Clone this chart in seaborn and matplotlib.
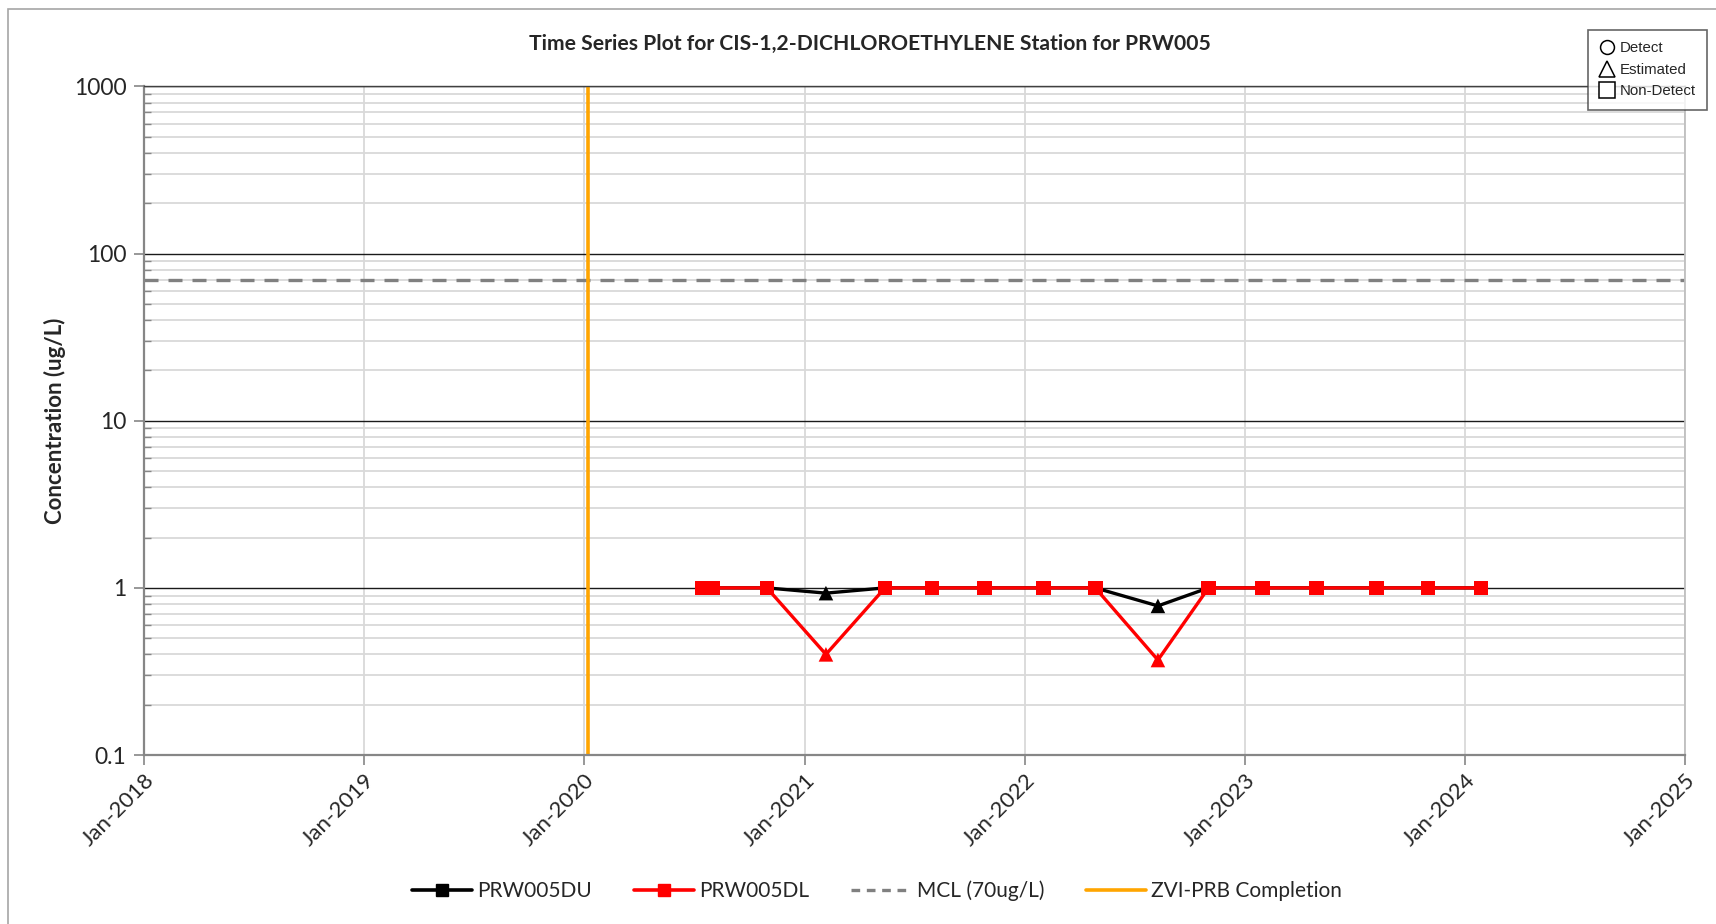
import matplotlib
matplotlib.use("Agg")
import numpy as np
import pandas as pd
import matplotlib.pyplot as plt
import matplotlib.dates as mdates
import seaborn as sns
from matplotlib.lines import Line2D
from matplotlib.patches import Rectangle
from matplotlib.ticker import LogLocator, FuncFormatter, NullFormatter

# Sampling events for well PRW005 (cis-1,2-DCE, ug/L)
sample_dates = ["2020-07-15", "2020-08-01", "2020-10-30", "2021-02-05", "2021-05-14",
                "2021-07-31", "2021-10-26", "2022-02-01", "2022-04-28", "2022-08-10",
                "2022-11-02", "2023-01-31", "2023-04-30", "2023-08-08", "2023-11-01",
                "2024-01-28"]
du_values = [1, 1, 1, 0.93, 1, 1, 1, 1, 1, 0.78, 1, 1, 1, 1, 1, 1]
dl_values = [1, 1, 1, 0.40, 1, 1, 1, 1, 1, 0.37, 1, 1, 1, 1, 1, 1]
qualifiers = ["ND", "ND", "ND", "E", "ND", "ND", "ND", "ND", "ND", "E",
              "ND", "ND", "ND", "ND", "ND", "ND"]

mcl_value = 70
zvi_completion = "2020-01-07"
x_start, x_end = "2018-01-01", "2025-01-01"
y_ticks = [0.1, 1, 10, 100, 1000]

title = "Time Series Plot for CIS-1,2-DICHLOROETHYLENE Station for PRW005"
y_label = "Concentration (ug/L)"

df = pd.DataFrame({
    "date": pd.to_datetime(sample_dates),
    "du": du_values,
    "dl": dl_values,
    "qual": qualifiers,
})

sns.set_theme(style="white")
plt.rcParams["font.family"] = ["Lato", "DejaVu Sans"]

fig = plt.figure(figsize=(17.16, 9.24), dpi=100)
ax = fig.add_axes([0.0842, 0.1829, 0.8978, 0.7235])

ax.set_yscale("log")
ax.set_ylim(y_ticks[0], y_ticks[-1])
ax.set_xlim(pd.Timestamp(x_start), pd.Timestamp(x_end))

# gridlines
ax.yaxis.set_major_locator(LogLocator(base=10))
ax.yaxis.set_minor_locator(LogLocator(base=10, subs=range(2, 10)))
ax.yaxis.set_minor_formatter(NullFormatter())
ax.yaxis.set_major_formatter(FuncFormatter(lambda v, p: f"{v:g}"))
ax.grid(which="minor", axis="y", color="#d9d9d9", lw=1.3, zorder=0)
ax.grid(which="major", axis="y", color="#1a1a1a", lw=1.0, zorder=0)
ax.grid(which="major", axis="x", color="#d9d9d9", lw=1.3, zorder=0)
ax.set_axisbelow(True)

ax.xaxis.set_major_locator(mdates.YearLocator())
ax.xaxis.set_major_formatter(mdates.DateFormatter("%b-%Y"))

# reference lines
mcl_dash = (0, (4.2, 3.0))
ax.axhline(mcl_value, color="#808080", lw=2.4, ls=mcl_dash, zorder=2)
ax.axvline(pd.Timestamp(zvi_completion), color="#FFA500", lw=2.6, zorder=2)

# series lines
sns.lineplot(data=df, x="date", y="du", color="black", lw=2.4, ax=ax,
             estimator=None, zorder=3)
sns.lineplot(data=df, x="date", y="dl", color="#FF0000", lw=2.4, ax=ax,
             estimator=None, zorder=5)
marker_map = {"ND": "s", "E": "^"}
sns.scatterplot(data=df, x="date", y="du", style="qual", markers=marker_map,
                color="black", s=110, linewidth=0, ax=ax, legend=False, zorder=4)
sns.scatterplot(data=df, x="date", y="dl", style="qual", markers=marker_map,
                color="#FF0000", s=110, linewidth=0, ax=ax, legend=False, zorder=6)

ax.set_xlabel("")
ax.set_ylabel(y_label, fontsize=16, fontweight="bold", labelpad=5.5)

for s in ["left", "bottom"]:
    ax.spines[s].set_color("#868686")
    ax.spines[s].set_linewidth(1.6)
ax.spines["top"].set_color("#404040")
ax.spines["top"].set_linewidth(1.0)
ax.spines["right"].set_color("#bfbfbf")
ax.spines["right"].set_linewidth(1.3)

ax.tick_params(axis="y", which="major", direction="out", length=7, width=1.2,
               color="#868686", labelsize=16.5, pad=6, left=True)
ax.tick_params(axis="y", which="minor", direction="in", length=5, width=1.0,
               color="#868686", left=True)
ax.tick_params(axis="x", which="major", direction="out", length=7, width=1.2,
               color="#868686", labelsize=16, pad=4, bottom=True)
for lbl in ax.get_xticklabels():
    lbl.set_rotation(45)
    lbl.set_ha("right")
    lbl.set_rotation_mode("anchor")

fig.text(0.507, 0.952, title, ha="center", va="center", fontsize=15.2,
         fontweight="bold")

# series legend along the bottom
handles = [
    Line2D([], [], color="black", lw=2.6, marker="s", ms=9),
    Line2D([], [], color="#FF0000", lw=2.6, marker="s", ms=9),
    Line2D([], [], color="#808080", lw=2.4, ls=(0, (2.6, 2.0))),
    Line2D([], [], color="#FFA500", lw=2.6),
]
labels = ["PRW005DU", "PRW005DL", "MCL (70ug/L)", "ZVI-PRB Completion"]
fig.legend(handles, labels, loc="center", bbox_to_anchor=(0.511, 0.036), ncol=4,
           frameon=False, fontsize=15, handlelength=2.9, handletextpad=0.25,
           columnspacing=2.0)

# qualifier key in the upper right
key_handles = [
    Line2D([], [], ls="none", marker="o", mfc="white", mec="black", ms=10, mew=1.1),
    Line2D([], [], ls="none", marker="^", mfc="white", mec="black", ms=12, mew=1.1),
    Line2D([], [], ls="none", marker="s", mfc="white", mec="black", ms=11, mew=1.1),
]
key = fig.legend(key_handles, ["Detect", "Estimated", "Non-Detect"],
                 loc="upper right", bbox_to_anchor=(0.9950, 0.9675),
                 frameon=True, fancybox=False,
                 prop={"family": "Liberation Sans", "size": 10.8},
                 handlelength=1.1, handletextpad=0.3, labelspacing=0.5,
                 borderpad=0.75, borderaxespad=0)
key.get_frame().set_edgecolor("#404040")
key.get_frame().set_linewidth(1.2)
key.set_zorder(20)

# chart-area border
fig.add_artist(Rectangle((8 / 1716, -0.01), 1.0, 1 - 9 / 924 + 0.01,
                         transform=fig.transFigure, fill=False,
                         edgecolor="#a6a6a6", lw=1.2))

fig.savefig("out.png", dpi=100)
